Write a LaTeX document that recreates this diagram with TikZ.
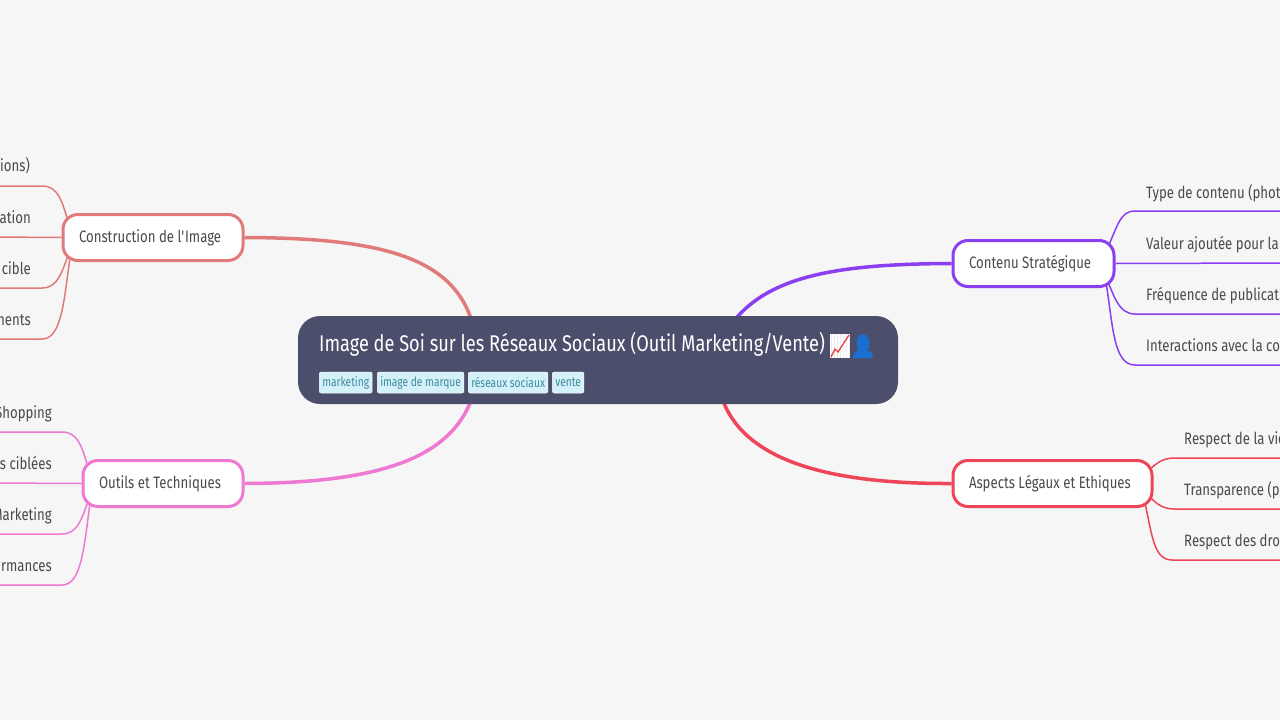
\documentclass[tikz,border=0pt]{standalone}
\usepackage{fontspec}
\setmainfont[FakeStretch=0.80]{Fira Sans}
\usetikzlibrary{backgrounds}
\definecolor{pagebg}{HTML}{F6F6F6}
\definecolor{rootfill}{HTML}{4C4F6B}
\definecolor{tagfill}{HTML}{D4F1F9}
\definecolor{tagtext}{HTML}{3B8A9C}
\definecolor{inktext}{HTML}{4A4A4A}
\definecolor{imagecol}{HTML}{E17B7B}
\definecolor{outilscol}{HTML}{EE78D2}
\definecolor{contenucol}{HTML}{8A3FF0}
\definecolor{legalcol}{HTML}{EE4558}
\definecolor{personcol}{HTML}{1B6FD0}
\definecolor{chartcol}{HTML}{E8474F}
\tikzset{
  rootbox/.style={fill=rootfill,rounded corners=22pt,minimum width=600pt,minimum height=88pt,inner sep=0pt},
  titletext/.style={anchor=base west,inner sep=0pt,text=white,font=\fontsize{22.72}{26}\selectfont},
  tagbox/.style={anchor=west,fill=tagfill,draw=white,line width=0.5pt,rounded corners=2pt,minimum height=21pt,inner xsep=3pt,inner ysep=0pt,text=tagtext,font=\fontsize{12.8}{14}\selectfont},
  childbox/.style={anchor=west,fill=white,line width=3pt,rounded corners=15pt,minimum height=46pt,inner xsep=16pt,align=flush left,text=inktext,font=\fontsize{16.5}{19}\selectfont},
  leaftext/.style={inner sep=0pt,text=inktext,font=\fontsize{16.5}{19}\selectfont},
  mainline/.style={line width=3.5pt},
  leafline/.style={line width=1.5pt}
}
\begin{document}
\begin{tikzpicture}[x=1pt,y=-1pt]
  \useasboundingbox (0,0) rectangle (1280,720);

  % root
  \node[rootbox] (root) at (598,360) {};
  \node[titletext] (title) at (319,351.4) {Image de Soi sur les Réseaux Sociaux (Outil Marketing/Vente)};
  \node[tagbox] (tagA) at (319,382.5) {marketing};
  \node[tagbox] (tagB) at (377,382.5) {image de marque};
  \node[tagbox] (tagC) at (468,382.5) {réseaux sociaux};
  \node[tagbox] (tagD) at (552,382.5) {vente};

  % chart and person
  \fill[white] (830,334) rectangle (849.5,358);
  \draw[black!8,line width=0.4pt,step=3] (830,334) grid (849.5,358);
  \draw[chartcol,line width=1.4pt] (831,357) -- (835,349) -- (838,352) -- (849,335);
  \fill[personcol] (863,343) ellipse [x radius=6.5,y radius=9];
  \fill[personcol] (853,358) .. controls (853,351) and (858,350) .. (863,350) .. controls (868,350) and (873,351) .. (873,358) -- cycle;

  % branches
  \node[childbox,draw=imagecol,text width=148pt] (image) at (61.5,237.5) {\raisebox{2pt}{\mbox{Construction de l\textquotesingle Image}}};
  \node[childbox,draw=outilscol,text width=128pt] (outils) at (81.5,483.5) {\raisebox{2pt}{\mbox{Outils et Techniques}}};
  \node[childbox,draw=contenucol,text width=129pt] (contenu) at (951.5,263.5) {\raisebox{2pt}{\mbox{Contenu Stratégique}}};
  \node[childbox,draw=legalcol,text width=167pt] (legal) at (951.5,483.5) {\raisebox{2pt}{\mbox{Aspects Légaux et Ethiques}}};

  % leaves, left side
  \node[leaftext,anchor=base east] (imgA) at (30,171.7) {tions)};
  \node[leaftext,anchor=base east] (imgB) at (31,223.4) {ation};
  \node[leaftext,anchor=base east] (imgC) at (31,274.4) {cible};
  \node[leaftext,anchor=base east] (imgD) at (31,325.4) {ments};
  \node[leaftext,anchor=base east] (outA) at (52,418.4) {Shopping};
  \node[leaftext,anchor=base east] (outB) at (52,469.4) {s ciblées};
  \node[leaftext,anchor=base east] (outC) at (52,520.4) {Marketing};
  \node[leaftext,anchor=base east] (outD) at (52,571.4) {rmances};

  % leaves, right side
  \node[leaftext,anchor=base west] (conA) at (1146,198.4) {Type de contenu (phot};
  \node[leaftext,anchor=base west] (conB) at (1146,249.4) {Valeur ajoutée pour la};
  \node[leaftext,anchor=base west] (conC) at (1146,300.4) {Fréquence de publicat};
  \node[leaftext,anchor=base west] (conD) at (1146,351.4) {Interactions avec la co};
  \node[leaftext,anchor=base west] (legA) at (1184,444.4) {Respect de la vie};
  \node[leaftext,anchor=base west] (legB) at (1184,495.4) {Transparence (p};
  \node[leaftext,anchor=base west] (legC) at (1184,546.4) {Respect des droi};

  % ends of the connectors
  \coordinate (rootNW) at (472,322);
  \coordinate (rootSW) at (472,398);
  \coordinate (rootNE) at (733,322);
  \coordinate (rootSE) at (722,398);
  \coordinate (imgAend) at (-5,186);
  \coordinate (imgBend) at (-5,237);
  \coordinate (imgCend) at (-5,288);
  \coordinate (imgDend) at (-5,339);
  \coordinate (outAend) at (-5,432);
  \coordinate (outBend) at (-5,483);
  \coordinate (outCend) at (-5,534);
  \coordinate (outDend) at (-5,585);
  \coordinate (conAend) at (1285,211);
  \coordinate (conBend) at (1285,263);
  \coordinate (conCend) at (1285,314);
  \coordinate (conDend) at (1285,365);
  \coordinate (legAend) at (1285,458);
  \coordinate (legBend) at (1285,509);
  \coordinate (legCend) at (1285,560);

  \begin{pgfonlayer}{background}
    \fill[pagebg] (0,0) rectangle (1280,720);
    \draw[mainline,imagecol] (rootNW) .. controls (452,255) and (375,238) .. (image.east);
    \draw[mainline,outilscol] (rootSW) .. controls (450,460) and (375,483) .. (outils.east);
    \draw[mainline,contenucol] (rootNE) .. controls (770,275) and (840,264) .. (contenu.west);
    \draw[mainline,legalcol] (rootSE) .. controls (745,465) and (840,484) .. (legal.west);

    \draw[leafline,imagecol] (70,228) .. controls (62,200) and (58,186) .. (42,186) -- (imgAend);
    \draw[leafline,imagecol] (image.west) -- (imgBend);
    \draw[leafline,imagecol] (70,250) .. controls (62,272) and (58,288) .. (42,288) -- (imgCend);
    \draw[leafline,imagecol] (71,250) .. controls (64,300) and (62,339) .. (42,339) -- (imgDend);

    \draw[leafline,outilscol] (90,474) .. controls (82,446) and (78,432) .. (62,432) -- (outAend);
    \draw[leafline,outilscol] (outils.west) -- (outBend);
    \draw[leafline,outilscol] (90,496) .. controls (82,518) and (78,534) .. (62,534) -- (outCend);
    \draw[leafline,outilscol] (91,496) .. controls (84,546) and (82,585) .. (62,585) -- (outDend);

    \draw[leafline,contenucol] (1105,254) .. controls (1118,225) and (1120,211) .. (1135,211) -- (conAend);
    \draw[leafline,contenucol] (contenu.east) -- (conBend);
    \draw[leafline,contenucol] (1105,275) .. controls (1114,295) and (1118,314) .. (1135,314) -- (conCend);
    \draw[leafline,contenucol] (1105,275) .. controls (1113,325) and (1113,365) .. (1135,365) -- (conDend);

    \draw[leafline,legalcol] (1145,474) .. controls (1155,465) and (1160,458) .. (1175,458) -- (legAend);
    \draw[leafline,legalcol] (1145,492) .. controls (1155,502) and (1160,509) .. (1175,509) -- (legBend);
    \draw[leafline,legalcol] (1143,495) .. controls (1152,530) and (1152,560) .. (1172,560) -- (legCend);
  \end{pgfonlayer}
\end{tikzpicture}
\end{document}
